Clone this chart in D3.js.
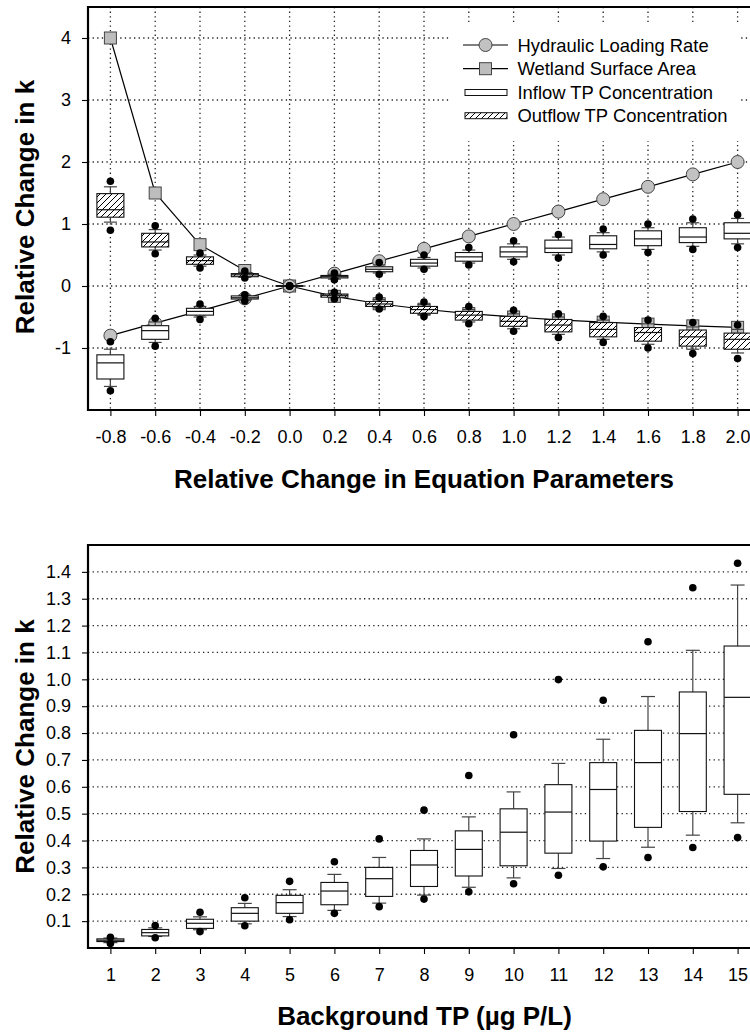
<!DOCTYPE html>
<html>
<head>
<meta charset="utf-8">
<script src="https://cdn.jsdelivr.net/npm/d3@7"></script>
<style>
  html, body { margin: 0; padding: 0; background: #fff; }
  svg { display: block; font-family: "Liberation Sans", Arial, Helvetica, sans-serif; }
</style>
</head>
<body>
<svg id="chart" width="750" height="1034"></svg>
<script>
// ---------------- DATA ----------------
// Top panel: relative change in parameters
const paramChange = [-0.8, -0.6, -0.4, -0.2, 0.0, 0.2, 0.4, 0.6, 0.8, 1.0, 1.2, 1.4, 1.6, 1.8, 2.0];
const hydraulicLoading = [-0.8, -0.6, -0.4, -0.2, 0.0, 0.2, 0.4, 0.6, 0.8, 1.0, 1.2, 1.4, 1.6, 1.8, 2.0];
const wetlandArea = [4.0, 1.5, 0.667, 0.25, 0.0, -0.167, -0.286, -0.375, -0.444, -0.5, -0.545, -0.583, -0.615, -0.643, -0.667];

// Inflow TP concentration box stats
const inflowOutLow  = [-1.69, -0.97, -0.54, -0.24, 0, 0.10, 0.19, 0.27, 0.34, 0.39, 0.45, 0.50, 0.54, 0.59, 0.62];
const inflowWhiskLo = [-1.62, -0.91, -0.50, -0.23, 0, 0.11, 0.21, 0.29, 0.37, 0.43, 0.50, 0.55, 0.59, 0.64, 0.68];
const inflowQ1      = [-1.50, -0.86, -0.47, -0.21, 0, 0.13, 0.23, 0.32, 0.40, 0.47, 0.54, 0.60, 0.65, 0.70, 0.76];
const inflowMedian  = [-1.24, -0.72, -0.41, -0.19, 0, 0.15, 0.27, 0.37, 0.47, 0.55, 0.61, 0.67, 0.76, 0.79, 0.85];
const inflowQ3      = [-1.11, -0.64, -0.36, -0.16, 0, 0.17, 0.31, 0.43, 0.54, 0.63, 0.74, 0.81, 0.89, 0.94, 1.02];
const inflowWhiskHi = [-1.02, -0.58, -0.33, -0.15, 0, 0.19, 0.34, 0.46, 0.58, 0.68, 0.79, 0.86, 0.94, 1.02, 1.09];
const inflowOutHigh = [-0.90, -0.52, -0.29, -0.14, 0, 0.21, 0.38, 0.50, 0.62, 0.73, 0.83, 0.92, 1.00, 1.08, 1.15];

// Outflow TP concentration box stats
const outflowOutLow  = [0.90, 0.52, 0.29, 0.13, 0, -0.21, -0.37, -0.49, -0.61, -0.73, -0.83, -0.91, -1.00, -1.09, -1.17];
const outflowWhiskLo = [1.03, 0.58, 0.32, 0.14, 0, -0.19, -0.35, -0.46, -0.58, -0.69, -0.78, -0.86, -0.94, -1.02, -1.08];
const outflowQ1      = [1.11, 0.63, 0.35, 0.15, 0, -0.18, -0.33, -0.44, -0.55, -0.65, -0.74, -0.82, -0.89, -0.97, -1.02];
const outflowMedian  = [1.23, 0.71, 0.41, 0.18, 0, -0.15, -0.29, -0.38, -0.47, -0.57, -0.63, -0.70, -0.75, -0.82, -0.86];
const outflowQ3      = [1.49, 0.85, 0.47, 0.20, 0, -0.13, -0.25, -0.33, -0.41, -0.49, -0.54, -0.59, -0.67, -0.71, -0.76];
const outflowWhiskHi = [1.60, 0.91, 0.50, 0.22, 0, -0.12, -0.22, -0.30, -0.38, -0.45, -0.50, -0.55, -0.61, -0.66, -0.70];
const outflowOutHigh = [1.69, 0.97, 0.53, 0.24, 0, -0.10, -0.18, -0.26, -0.33, -0.39, -0.45, -0.49, -0.55, -0.59, -0.63];

const topXTicks = [-0.8, -0.6, -0.4, -0.2, 0.0, 0.2, 0.4, 0.6, 0.8, 1.0, 1.2, 1.4, 1.6, 1.8, 2.0];
const topYTicks = [-1, 0, 1, 2, 3, 4];
const legendLabels = ["Hydraulic Loading Rate", "Wetland Surface Area", "Inflow TP Concentration", "Outflow TP Concentration"];

// Bottom panel: background TP
const backgroundTP = [1, 2, 3, 4, 5, 6, 7, 8, 9, 10, 11, 12, 13, 14, 15];
const bgOutLow  = [0.017, 0.038, 0.061, 0.083, 0.105, 0.129, 0.154, 0.182, 0.209, 0.239, 0.271, 0.302, 0.337, 0.374, 0.411];
const bgWhiskLo = [0.020, 0.043, 0.068, 0.090, 0.117, 0.140, 0.167, 0.197, 0.226, 0.261, 0.296, 0.333, 0.375, 0.420, 0.466];
const bgQ1      = [0.024, 0.045, 0.073, 0.100, 0.129, 0.161, 0.192, 0.229, 0.268, 0.306, 0.353, 0.398, 0.449, 0.508, 0.572];
const bgMedian  = [0.029, 0.057, 0.092, 0.129, 0.169, 0.212, 0.258, 0.309, 0.367, 0.431, 0.506, 0.590, 0.690, 0.798, 0.933];
const bgQ3      = [0.034, 0.069, 0.107, 0.150, 0.196, 0.244, 0.300, 0.363, 0.436, 0.518, 0.608, 0.690, 0.810, 0.953, 1.124];
const bgWhiskHi = [0.037, 0.075, 0.116, 0.166, 0.217, 0.274, 0.337, 0.406, 0.488, 0.581, 0.687, 0.777, 0.936, 1.108, 1.351];
const bgOutHigh = [0.040, 0.084, 0.133, 0.187, 0.248, 0.321, 0.406, 0.513, 0.642, 0.794, 0.999, 0.922, 1.140, 1.341, 1.432];

const botXTicks = [1, 2, 3, 4, 5, 6, 7, 8, 9, 10, 11, 12, 13, 14, 15];
const botYTicks = [0.1, 0.2, 0.3, 0.4, 0.5, 0.6, 0.7, 0.8, 0.9, 1.0, 1.1, 1.2, 1.3, 1.4];

// ---------------- DRAWING ----------------
const svg = d3.select("#chart");
const defs = svg.append("defs");
const hatch = defs.append("pattern").attr("id", "hatch")
  .attr("patternUnits", "userSpaceOnUse").attr("width", 6).attr("height", 6);
hatch.append("rect").attr("width", 6).attr("height", 6).attr("fill", "#fff");
hatch.append("path").attr("d", "M-1,1 l2,-2 M0,6 l6,-6 M5,7 l2,-2")
  .attr("stroke", "#000").attr("stroke-width", 1);

const gridStyle = sel => sel.attr("stroke", "#222").attr("stroke-width", 1.3)
  .attr("stroke-dasharray", "1.3 3.3").attr("fill", "none");

function stats(arrs) {
  return arrs[0].map((_, i) => ({
    lo: arrs[0][i], wlo: arrs[1][i], q1: arrs[2][i], med: arrs[3][i],
    q3: arrs[4][i], whi: arrs[5][i], hi: arrs[6][i]
  }));
}

function drawBoxes(g, x, y, xs, st, fill, boxW, capW) {
  const bg = g.append("g");
  st.forEach((s, i) => {
    const cx = x(xs[i]);
    const b = bg.append("g");
    b.append("line").attr("x1", cx).attr("x2", cx).attr("y1", y(s.q3)).attr("y2", y(s.whi))
      .attr("stroke", "#444").attr("stroke-width", 1.2);
    b.append("line").attr("x1", cx).attr("x2", cx).attr("y1", y(s.q1)).attr("y2", y(s.wlo))
      .attr("stroke", "#444").attr("stroke-width", 1.2);
    b.append("line").attr("x1", cx - capW / 2).attr("x2", cx + capW / 2).attr("y1", y(s.whi)).attr("y2", y(s.whi))
      .attr("stroke", "#444").attr("stroke-width", 1.2);
    b.append("line").attr("x1", cx - capW / 2).attr("x2", cx + capW / 2).attr("y1", y(s.wlo)).attr("y2", y(s.wlo))
      .attr("stroke", "#444").attr("stroke-width", 1.2);
    b.append("rect").attr("x", cx - boxW / 2).attr("width", boxW)
      .attr("y", y(s.q3)).attr("height", Math.max(0.001, y(s.q1) - y(s.q3)))
      .attr("fill", fill).attr("stroke", "#111").attr("stroke-width", 1.1);
    b.append("line").attr("x1", cx - boxW / 2).attr("x2", cx + boxW / 2)
      .attr("y1", y(s.med)).attr("y2", y(s.med)).attr("stroke", "#111").attr("stroke-width", 1.2);
  });
  return bg;
}

function drawOutliers(g, x, y, xs, st) {
  st.forEach((s, i) => {
    [s.lo, s.hi].forEach(v => {
      g.append("circle").attr("cx", x(xs[i])).attr("cy", y(v)).attr("r", 3.8).attr("fill", "#000");
    });
  });
}

function styleAxis(ax) {
  ax.select(".domain").remove();
  ax.selectAll(".tick line").attr("stroke", "#000").attr("stroke-width", 1.1);
  ax.selectAll(".tick text").attr("fill", "#000").style("font-size", "18px")
    .style("font-family", '"Liberation Sans", Arial, Helvetica, sans-serif');
}

// ===== TOP PANEL =====
const xT = d3.scaleLinear().domain([-0.9, 2.1]).range([88, 760]);
const yT = d3.scaleLinear().domain([-2, 4.5]).range([410, 7]);
const gT = svg.append("g");

gT.append("g").selectAll("line").data(topXTicks).join("line")
  .attr("x1", d => xT(d)).attr("x2", d => xT(d)).attr("y1", yT(4.5)).attr("y2", yT(-2)).call(gridStyle);
gT.append("g").selectAll("line").data(topYTicks).join("line")
  .attr("x1", xT(-0.9)).attr("x2", xT(2.1)).attr("y1", d => yT(d)).attr("y2", d => yT(d)).call(gridStyle);

const lineGen = d3.line().x((d, i) => xT(paramChange[i])).y(d => yT(d));
gT.append("path").datum(hydraulicLoading).attr("d", lineGen).attr("fill", "none").attr("stroke", "#000").attr("stroke-width", 1.2);
gT.append("path").datum(wetlandArea).attr("d", lineGen).attr("fill", "none").attr("stroke", "#000").attr("stroke-width", 1.2);
gT.append("g").selectAll("rect").data(wetlandArea).join("rect")
  .attr("x", (d, i) => xT(paramChange[i]) - 6).attr("y", d => yT(d) - 6)
  .attr("width", 12).attr("height", 12).attr("fill", "#bdbdbd").attr("stroke", "#444").attr("stroke-width", 1);
gT.append("g").selectAll("circle").data(hydraulicLoading).join("circle")
  .attr("cx", (d, i) => xT(paramChange[i])).attr("cy", d => yT(d)).attr("r", 6.5)
  .attr("fill", "#c2c2c2").attr("stroke", "#444").attr("stroke-width", 1);

const inflowStats = stats([inflowOutLow, inflowWhiskLo, inflowQ1, inflowMedian, inflowQ3, inflowWhiskHi, inflowOutHigh]);
const outflowStats = stats([outflowOutLow, outflowWhiskLo, outflowQ1, outflowMedian, outflowQ3, outflowWhiskHi, outflowOutHigh]);
drawBoxes(gT, xT, yT, paramChange, inflowStats, "#fff", 27, 13);
drawBoxes(gT, xT, yT, paramChange, outflowStats, "url(#hatch)", 27, 13);
const outG = gT.append("g");
drawOutliers(outG, xT, yT, paramChange, inflowStats);
drawOutliers(outG, xT, yT, paramChange, outflowStats);

const axXT = gT.append("g").attr("transform", `translate(0,${yT(-2)})`)
  .call(d3.axisBottom(xT).tickValues(topXTicks).tickSize(6).tickPadding(14).tickFormat(d => d.toFixed(1)));
styleAxis(axXT);
const axYT = gT.append("g").attr("transform", `translate(${xT(-0.9)},0)`)
  .call(d3.axisLeft(yT).tickValues(topYTicks).tickSize(6).tickPadding(11).tickFormat(d => String(d)));
styleAxis(axYT);

gT.append("path").attr("d", `M${xT(2.1)},${yT(4.5)} H${xT(-0.9)} V${yT(-2)} H${xT(2.1)}`)
  .attr("fill", "none").attr("stroke", "#000").attr("stroke-width", 2.2);

// legend
const lg = gT.append("g");
lg.append("rect").attr("x", 450).attr("y", 22).attr("width", 291).attr("height", 119).attr("fill", "#fff");
const lgY = [45, 68.7, 92.5, 115.7];
lg.append("line").attr("x1", 463).attr("x2", 508).attr("y1", lgY[0]).attr("y2", lgY[0]).attr("stroke", "#000").attr("stroke-width", 1.2);
lg.append("circle").attr("cx", 485.5).attr("cy", lgY[0]).attr("r", 6.5).attr("fill", "#c2c2c2").attr("stroke", "#444");
lg.append("line").attr("x1", 463).attr("x2", 508).attr("y1", lgY[1]).attr("y2", lgY[1]).attr("stroke", "#000").attr("stroke-width", 1.2);
lg.append("rect").attr("x", 479.5).attr("y", lgY[1] - 6).attr("width", 12).attr("height", 12).attr("fill", "#bdbdbd").attr("stroke", "#444");
lg.append("rect").attr("x", 465).attr("y", lgY[2] - 3).attr("width", 42).attr("height", 6).attr("fill", "#fff").attr("stroke", "#111").attr("stroke-width", 1);
lg.append("rect").attr("x", 465).attr("y", lgY[3] - 3).attr("width", 42).attr("height", 6).attr("fill", "url(#hatch)").attr("stroke", "#111").attr("stroke-width", 1);
lg.selectAll("text").data(legendLabels).join("text")
  .attr("x", 517.5).attr("y", (d, i) => lgY[i]).attr("dy", "0.36em")
  .style("font-size", "18.4px").attr("fill", "#000").text(d => d);

svg.append("text").attr("x", 424).attr("y", 487.5).attr("text-anchor", "middle")
  .style("font-size", "26px").style("font-weight", "bold").text("Relative Change in Equation Parameters");
svg.append("text").attr("transform", "translate(33.5,207) rotate(-90)").attr("text-anchor", "middle")
  .style("font-size", "26px").style("font-weight", "bold").text("Relative Change in k");

// ===== BOTTOM PANEL =====
const xB = d3.scaleLinear().domain([0.5, 15.5]).range([88, 760]);
const yB = d3.scaleLinear().domain([0, 1.5]).range([948, 545]);
const gB = svg.append("g");

gB.append("g").selectAll("line").data(botYTicks).join("line")
  .attr("x1", xB(0.5)).attr("x2", xB(15.5)).attr("y1", d => yB(d)).attr("y2", d => yB(d)).call(gridStyle);

const bgStats = stats([bgOutLow, bgWhiskLo, bgQ1, bgMedian, bgQ3, bgWhiskHi, bgOutHigh]);
drawBoxes(gB, xB, yB, backgroundTP, bgStats, "#fff", 27, 14);
drawOutliers(gB.append("g"), xB, yB, backgroundTP, bgStats);

const axXB = gB.append("g").attr("transform", `translate(0,${yB(0)})`)
  .call(d3.axisBottom(xB).tickValues(botXTicks).tickSize(6).tickPadding(14).tickFormat(d => String(d)));
styleAxis(axXB);
const axYB = gB.append("g").attr("transform", `translate(${xB(0.5)},0)`)
  .call(d3.axisLeft(yB).tickValues(botYTicks).tickSize(6).tickPadding(11).tickFormat(d => d.toFixed(1)));
styleAxis(axYB);

gB.append("path").attr("d", `M${xB(15.5)},${yB(1.5)} H${xB(0.5)} V${yB(0)} H${xB(15.5)}`)
  .attr("fill", "none").attr("stroke", "#000").attr("stroke-width", 2.2);

svg.append("text").attr("x", 424.5).attr("y", 1025).attr("text-anchor", "middle")
  .style("font-size", "26px").style("font-weight", "bold").text("Background TP (µg P/L)");
svg.append("text").attr("transform", "translate(33.5,746.5) rotate(-90)").attr("text-anchor", "middle")
  .style("font-size", "26px").style("font-weight", "bold").text("Relative Change in k");
</script>
</body>
</html>
